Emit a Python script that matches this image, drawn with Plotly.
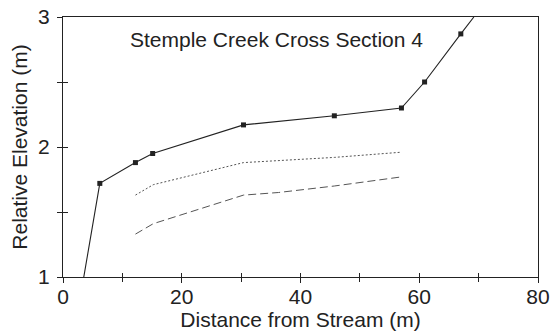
import plotly.graph_objects as go

# Data
surface_dist = [3.5, 6.2, 12.2, 15.1, 30.4, 45.7, 57.0, 60.9, 67.0, 69.2]
surface_elev = [1.0, 1.72, 1.88, 1.95, 2.17, 2.24, 2.30, 2.50, 2.87, 3.0]
surface_marked = [False, True, True, True, True, True, True, True, True, False]

dotted_dist = [12.2, 15.2, 30.4, 45.7, 57.0]
dotted_elev = [1.63, 1.71, 1.88, 1.92, 1.96]

dashed_dist = [12.2, 15.2, 30.4, 36.3, 45.7, 57.0]
dashed_elev = [1.33, 1.41, 1.63, 1.65, 1.70, 1.77]

x_ticks = [0, 20, 40, 60, 80]
y_ticks = [1, 2, 3]
title_text = "Stemple Creek Cross Section 4"

FONT = "Liberation Sans, Arial, sans-serif"
INK = "#222222"

fig = go.Figure()

fig.add_trace(go.Scatter(
    x=surface_dist, y=surface_elev, mode="lines",
    line=dict(color=INK, width=1.1), showlegend=False, hoverinfo="skip"))
fig.add_trace(go.Scatter(
    x=[d for d, m in zip(surface_dist, surface_marked) if m],
    y=[e for e, m in zip(surface_elev, surface_marked) if m],
    mode="markers", marker=dict(symbol="square", size=5, color=INK),
    showlegend=False, hoverinfo="skip"))
fig.add_trace(go.Scatter(
    x=dotted_dist, y=dotted_elev, mode="lines",
    line=dict(color="#555555", width=1, dash="2px,2px"),
    showlegend=False, hoverinfo="skip"))
fig.add_trace(go.Scatter(
    x=dashed_dist, y=dashed_elev, mode="lines",
    line=dict(color="#555555", width=1, dash="8px,4px"),
    showlegend=False, hoverinfo="skip"))
# empty trace to attach the overlay axes (inward half of crossing ticks)
fig.add_trace(go.Scatter(x=[None], y=[None], xaxis="x2", yaxis="y2",
                         mode="markers", showlegend=False, hoverinfo="skip"))

axis_common = dict(showgrid=False, zeroline=False, linecolor=INK, linewidth=1.4,
                   tickcolor=INK, tickwidth=1.2, automargin=False)

fig.update_layout(
    width=550, height=336,
    margin=dict(l=63, r=12, t=17, b=59, autoexpand=False),
    paper_bgcolor="white", plot_bgcolor="white",
    font=dict(family=FONT, size=21, color=INK),
    xaxis=dict(range=[0, 80], tickvals=x_ticks, ticks="outside", ticklen=5,
               minor=dict(dtick=10, ticks="outside", ticklen=4, tickcolor=INK, tickwidth=1.2),
               mirror=True, showline=True, ticklabelstandoff=-4,
               title=dict(text="Distance from Stream (m)", font=dict(size=21), standoff=3),
               tickfont=dict(size=21), **axis_common),
    yaxis=dict(range=[1, 3], tickvals=y_ticks, ticks="outside", ticklen=5,
               minor=dict(dtick=0.5, ticks="outside", ticklen=5, tickcolor=INK, tickwidth=1.2),
               mirror=True, showline=True, ticklabelstandoff=3,
               title=dict(text="Relative Elevation (m)", font=dict(size=21), standoff=4),
               tickfont=dict(size=21), **axis_common),
    xaxis2=dict(range=[0, 80], overlaying="x", matches="x", tick0=0, dtick=10,
                ticks="inside", ticklen=4, showticklabels=False, showline=False,
                showgrid=False, zeroline=False, tickcolor=INK, tickwidth=1.2, automargin=False),
    yaxis2=dict(range=[1, 3], overlaying="y", matches="y", tick0=1, dtick=0.5,
                ticks="inside", ticklen=5, showticklabels=False, showline=False,
                showgrid=False, zeroline=False, tickcolor=INK, tickwidth=1.2, automargin=False),
    annotations=[dict(text=title_text, xref="paper", yref="paper", x=0.45, y=0.913,
                      showarrow=False, xanchor="center", yanchor="middle",
                      font=dict(size=21, color=INK, family=FONT))],
)

fig.write_html("out.html")
